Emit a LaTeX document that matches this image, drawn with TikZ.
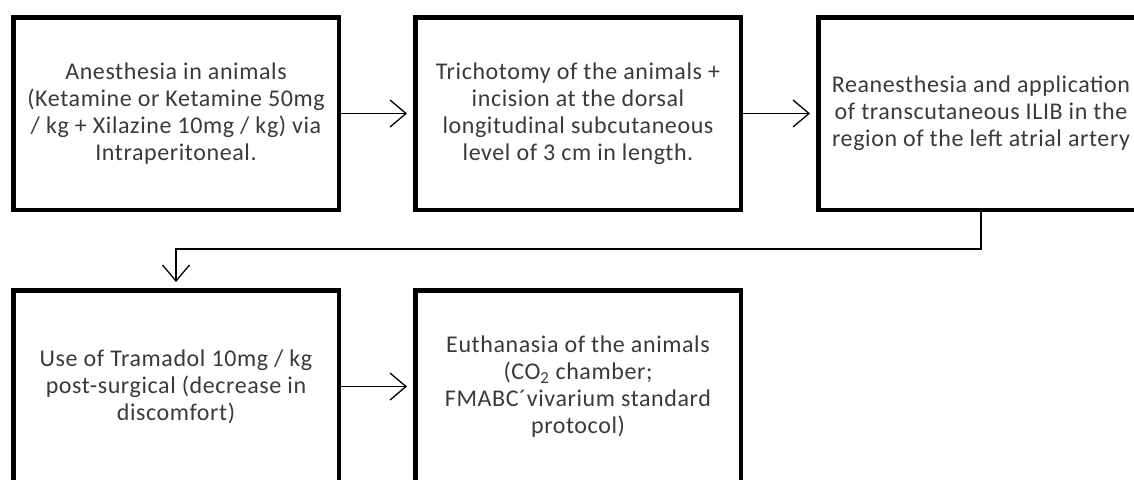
\documentclass[tikz,border=0pt]{standalone}
\usepackage{fontspec}
\setmainfont[LetterSpace=2.5]{Carlito}
\usetikzlibrary{arrows.meta,positioning}
\definecolor{ink}{HTML}{3A3A3A}
\tikzset{
  stepbox/.style={draw=black, line width=4.5pt, fill=white, align=center,
    minimum width=325.5pt, minimum height=192.5pt, text=ink,
    font=\fontsize{24}{27}\selectfont},
  arr/.style={-{Straight Barb[length=16pt,width=27pt]}, line width=1.3pt,
    shorten >=6pt}
}
\begin{document}
\begin{tikzpicture}[x=1pt,y=1pt]
  \useasboundingbox (0,0) rectangle (1134,-479);
  % top row
  \node[stepbox] (anest) at (176,-113.5) {Anesthesia in animals\\(Ketamine or Ketamine 50mg\\/ kg + Xilazine 10mg / kg) via\\Intraperitoneal.};
  \node[stepbox, right=72pt of anest] (tricho) {Trichotomy of the animals +\\incision at the dorsal\\longitudinal subcutaneous\\level of 3 cm in length.};
  \node[stepbox, right=73pt of tricho] (ilib) {Reanesthesia and application\\of transcutaneous ILIB in the\\region of the left atrial artery};
  % bottom row
  \node[stepbox, below=76pt of anest] (trama) {Use of Tramadol 10mg / kg\\post-surgical (decrease in\\discomfort)};
  \node[stepbox, right=72pt of trama] (euth) {Euthanasia of the animals\\(CO\textsubscript{2} chamber;\\FMABC´vivarium standard\\protocol)};
  \draw[arr] (anest) -- (tricho);
  \draw[arr] (tricho) -- (ilib);
  \draw[arr] (ilib.south) -- ++(0,-37) -| (trama.north);
  \draw[arr] (trama) -- (euth);
\end{tikzpicture}
\end{document}
